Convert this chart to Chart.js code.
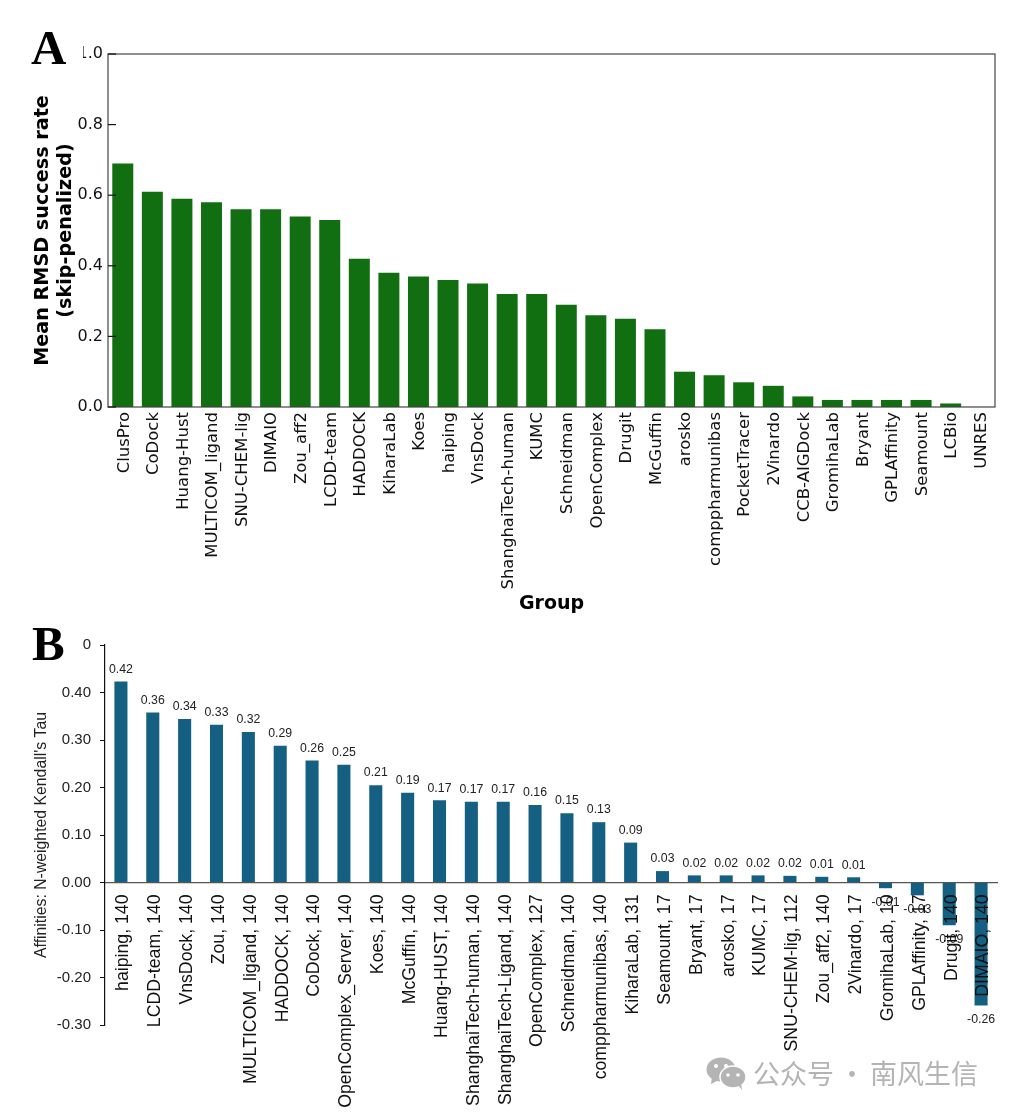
<!DOCTYPE html>
<html><head><meta charset="utf-8">
<script src="https://cdn.jsdelivr.net/npm/chart.js@4"></script>
<style>
html,body{margin:0;padding:0;background:#fff;}
#root{position:relative;width:1010px;height:1114px;overflow:hidden;background:#fff;}
canvas{position:absolute;left:0;}
.panel{position:absolute;font-family:"Liberation Serif";font-weight:bold;font-size:49px;line-height:49px;color:#000;background:#fff;}
#wm{position:absolute;left:753px;top:1054px;font-family:"Noto Sans CJK SC";font-size:27px;line-height:38px;color:#b4b4b4;white-space:nowrap;word-spacing:-1.5px;}
#wmi{position:absolute;left:706px;top:1057px;}
</style></head><body>
<div id="root">
<canvas id="a"></canvas>
<canvas id="b"></canvas>
<div class="panel" style="left:31px;top:23px;width:52px;height:45px;">A</div>
<div class="panel" style="left:32px;top:619px;background:none;">B</div>
<svg id="wmi" width="40" height="33" viewBox="0 0 40 33">
<ellipse cx="15" cy="12.5" rx="14.5" ry="12" fill="#b4b4b4"/><path d="M6 20 L5 27 L13 23Z" fill="#b4b4b4"/>
<circle cx="10" cy="9" r="2" fill="#fff"/><circle cx="20" cy="9" r="2" fill="#fff"/>
<ellipse cx="27" cy="20" rx="13" ry="11" fill="#b4b4b4" stroke="#fff" stroke-width="1.5"/><path d="M32 28 L36 33 L35 26Z" fill="#b4b4b4"/>
<circle cx="22" cy="18" r="1.8" fill="#fff"/><circle cx="32" cy="18" r="1.8" fill="#fff"/>
</svg>
<div id="wm">公众号 · 南风生信</div>
</div>
<script>
const groupsA = ["ClusPro","CoDock","Huang-Hust","MULTICOM_ligand","SNU-CHEM-lig","DIMAIO","Zou_aff2","LCDD-team","HADDOCK","KiharaLab","Koes","haiping","VnsDock","ShanghaiTech-human","KUMC","Schneidman","OpenComplex","Drugit","McGuffin","arosko","comppharmunibas","PocketTracer","2Vinardo","CCB-AIGDock","GromihaLab","Bryant","GPLAffinity","Seamount","LCBio","UNRES"];
const successA = [0.69,0.61,0.59,0.58,0.56,0.56,0.54,0.53,0.42,0.38,0.37,0.36,0.35,0.32,0.32,0.29,0.26,0.25,0.22,0.10,0.09,0.07,0.06,0.03,0.02,0.02,0.02,0.02,0.01,0];
const groupsB = ["haiping, 140","LCDD-team, 140","VnsDock, 140","Zou, 140","MULTICOM_ligand, 140","HADDOCK, 140","CoDock, 140","OpenComplex_Server, 140","Koes, 140","McGuffin, 140","Huang-HUST, 140","ShanghaiTech-human, 140","ShanghaiTech-Ligand, 140","OpenComplex, 127","Schneidman, 140","comppharmunibas, 140","KiharaLab, 131","Seamount, 17","Bryant, 17","arosko, 17","KUMC, 17","SNU-CHEM-lig, 112","Zou_aff2, 140","2Vinardo, 17","GromihaLab, 10","GPLAffinity, 17","Drugit, 140","DIMAIO, 140"];
const tauB = [0.423,0.358,0.344,0.332,0.317,0.288,0.257,0.248,0.205,0.189,0.173,0.17,0.17,0.163,0.146,0.127,0.084,0.024,0.015,0.015,0.015,0.014,0.012,0.011,-0.012,-0.027,-0.09,-0.259];
const tauLabels = ["0.42","0.36","0.34","0.33","0.32","0.29","0.26","0.25","0.21","0.19","0.17","0.17","0.17","0.16","0.15","0.13","0.09","0.03","0.02","0.02","0.02","0.02","0.01","0.01","-0.01","-0.03","-0.09","-0.26"];
const ticksB = {"-0.3":"-0.30","-0.2":"-0.20","-0.1":"-0.10","0":"0.00","0.1":"0.10","0.2":"0.20","0.3":"0.30","0.4":"0.40","0.5":"0"};

const frame = {id:'frame',afterDatasetsDraw(c){
  const {ctx,chartArea:{left,right,top,bottom},scales:{y}} = c;
  ctx.save();ctx.strokeStyle='#444';ctx.lineWidth=1.2;
  ctx.strokeRect(left,top,right-left,bottom-top);
  ctx.strokeStyle='#111';
  y.ticks.forEach(t=>{const p=y.getPixelForValue(t.value);ctx.beginPath();ctx.moveTo(left,p);ctx.lineTo(left+8,p);ctx.stroke();});
  ctx.restore();
}};
const valLabels = {id:'valLabels',afterDatasetsDraw(c){
  const {ctx} = c;const m=c.getDatasetMeta(0);
  ctx.save();ctx.font='12.3px "Liberation Sans"';ctx.fillStyle='#222';ctx.textAlign='center';
  m.data.forEach((b,i)=>{
    const neg=tauB[i]<0;
    ctx.textBaseline=neg?'top':'bottom';
    ctx.fillText(tauLabels[i],b.x,b.y+(neg?8:-6));
  });
  ctx.restore();
}};

function size(id,top,h){const e=document.getElementById(id);e.style.top=top+'px';e.style.width='1010px';e.style.height=h+'px';e.width=1010;e.height=h;return e;}
function noOverhang(s){s.paddingLeft=0;s.paddingRight=0;}

new Chart(size('a',0,620),{
  type:'bar',
  data:{labels:groupsA,datasets:[{data:successA,backgroundColor:'#116e11',barPercentage:0.71,categoryPercentage:1}]},
  plugins:[frame],
  options:{responsive:false,animation:false,
    layout:{padding:{left:0,top:54,right:15,bottom:5}},
    plugins:{legend:{display:false},tooltip:{enabled:false}},
    scales:{
      x:{grid:{display:false},border:{display:false},
        afterFit(s){s.height=208;noOverhang(s);},
        ticks:{autoSkip:false,minRotation:90,maxRotation:90,padding:-3,labelOffset:1.5,color:'#111',font:{family:'DejaVu Sans',size:16.5}},
        title:{display:true,text:'Group',color:'#000',font:{family:'DejaVu Sans',size:19,weight:'bold'},padding:{top:0,bottom:0}}},
      y:{min:0,max:1,grid:{display:false},border:{display:false},
        afterFit(s){s.width=108;},
        ticks:{stepSize:0.2,padding:-3,color:'#111',font:{family:'DejaVu Sans',size:16},callback:v=>v.toFixed(1)},
        title:{display:true,text:['Mean RMSD success rate','(skip-penalized)'],color:'#000',font:{family:'DejaVu Sans',size:19.2,weight:'bold'},padding:{top:31,bottom:0}}}
    }}
});

new Chart(size('b',620,494),{
  type:'bar',
  data:{labels:groupsB,datasets:[{data:tauB,backgroundColor:'#156082',barPercentage:0.41,categoryPercentage:1}]},
  plugins:[valLabels],
  options:{responsive:false,animation:false,
    layout:{padding:{left:0,top:25,right:13,bottom:89}},
    plugins:{legend:{display:false},tooltip:{enabled:false}},
    scales:{
      x:{position:{y:0},grid:{display:false,drawTicks:false},border:{display:true,color:'#555',width:1.2},
        afterFit:noOverhang,
        ticks:{z:1,autoSkip:false,minRotation:90,maxRotation:90,padding:12,labelOffset:2.5,color:'#111',font:{family:'Liberation Sans',size:17.7}}},
      y:{min:-0.3,max:0.5,grid:{drawOnChartArea:false,tickLength:5,color:'#111'},border:{display:true,color:'#111',width:1.2},
        afterFit(s){s.width=105;},
        ticks:{stepSize:0.1,padding:9,color:'#222',font:{family:'Liberation Sans',size:15},callback:v=>ticksB[String(Math.round(v*10)/10)]},
        title:{display:true,text:"Affinities: N-weighted Kendall's Tau",color:'#222',font:{family:'Liberation Sans',size:15.8},padding:{top:32,bottom:0}}}
    }}
});
</script>
</body></html>
